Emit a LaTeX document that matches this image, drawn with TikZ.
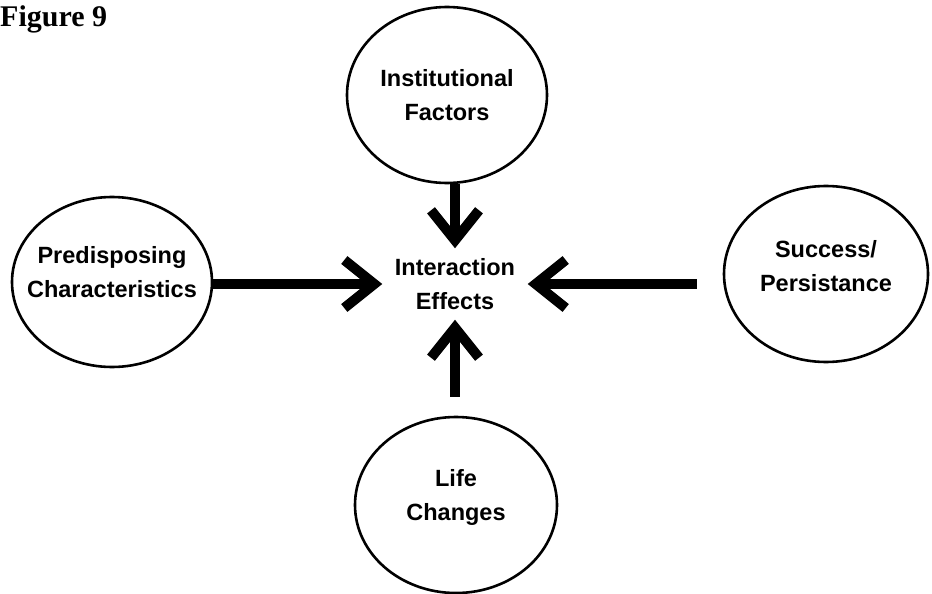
\documentclass[tikz,border=0pt]{standalone}
\usepackage{fontspec}
\setmainfont{Liberation Sans}
\newfontfamily\captionfont{Liberation Serif}
\usetikzlibrary{arrows.meta, shapes.geometric}

\tikzset{
  bubble/.style={draw, ellipse, line width=2.6pt, minimum width=200pt, minimum height=176pt, inner sep=0pt},
  lbl/.style={font=\bfseries\fontsize{23.5}{34}\selectfont, align=center},
  push/.style={line width=10pt, -{Straight Barb[length=30pt, width=48pt, sharp]}},
}

\begin{document}
\begin{tikzpicture}[x=1pt, y=-1pt]
            \useasboundingbox (0,0) rectangle (932,594);
            \node[anchor=base west, inner sep=0pt, font=\captionfont\bfseries\fontsize{30}{32}\selectfont] (fig) at (0,27) {Figure 9};
            \node[lbl, minimum width=145pt, minimum height=71pt, inner sep=0pt] (inter) at (455,284) {Interaction\\Effects};
            \node[bubble, label={[lbl]center:{Institutional\\Factors}}] (inst) at (447,95) {};
            \node[bubble, minimum height=170pt, label={[lbl, yshift=10pt]center:{Predisposing\\Characteristics}}] (pred) at (112,282) {};
            \node[bubble, minimum width=204pt, label={[lbl, yshift=8pt]center:{Success/\\Persistance}}] (succ) at (826,274) {};
            \node[bubble, minimum width=202pt, label={[lbl, yshift=8pt]center:{Life\\Changes}}] (life) at (456,505) {};
            \draw[push] (pred.east |- inter.west) -- (inter.west);
            \draw[push] (inst.south -| inter.north) -- (inter.north);
            \draw[push, shorten <=26pt] (succ.west |- inter.east) -- (inter.east);
            \draw[push, shorten <=19pt] (life.north -| inter.south) -- (inter.south);
        \end{tikzpicture}
\end{document}
